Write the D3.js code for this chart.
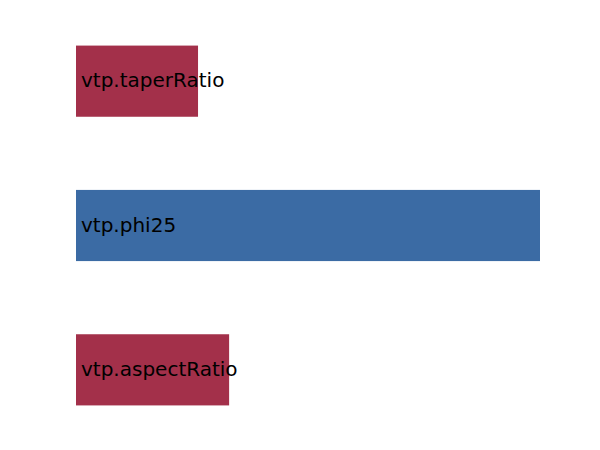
<!DOCTYPE html>
<html>
<head>
<meta charset="utf-8">
<script src="https://cdn.jsdelivr.net/npm/d3@7"></script>
<style>
  html, body { margin: 0; padding: 0; background: #ffffff; }
  svg { display: block; }
</style>
</head>
<body>
<svg id="chart" width="600" height="450"></svg>
<script>
const categories = ["vtp.taperRatio", "vtp.phi25", "vtp.aspectRatio"];
const values = [-0.263, 1.0, -0.33];
const posColor = "#3b6ba4";
const negColor = "#a3304a";

const svg = d3.select("#chart");

const x = d3.scaleLinear()
  .domain([0, d3.max(values, v => Math.abs(v))])
  .range([76, 540]);

const y = d3.scaleBand()
  .domain(categories)
  .range([9.5, 441.5])
  .paddingInner(73 / 144)
  .paddingOuter(0.25);

const g = svg.append("g");

g.selectAll("rect.bar")
  .data(categories)
  .join("rect")
  .attr("class", "bar")
  .attr("x", x(0))
  .attr("y", d => y(d))
  .attr("width", (d, i) => x(Math.abs(values[i])) - x(0))
  .attr("height", y.bandwidth())
  .attr("fill", (d, i) => values[i] < 0 ? negColor : posColor);

g.selectAll("text.lbl")
  .data(categories)
  .join("text")
  .attr("class", "lbl")
  .attr("x", x(0) + 5)
  .attr("y", d => y(d) + y.bandwidth() / 2)
  .attr("dy", "0.3em")
  .attr("font-family", "'DejaVu Sans', sans-serif")
  .attr("font-size", 20)
  .attr("fill", "#000")
  .text(d => d);
</script>
</body>
</html>
